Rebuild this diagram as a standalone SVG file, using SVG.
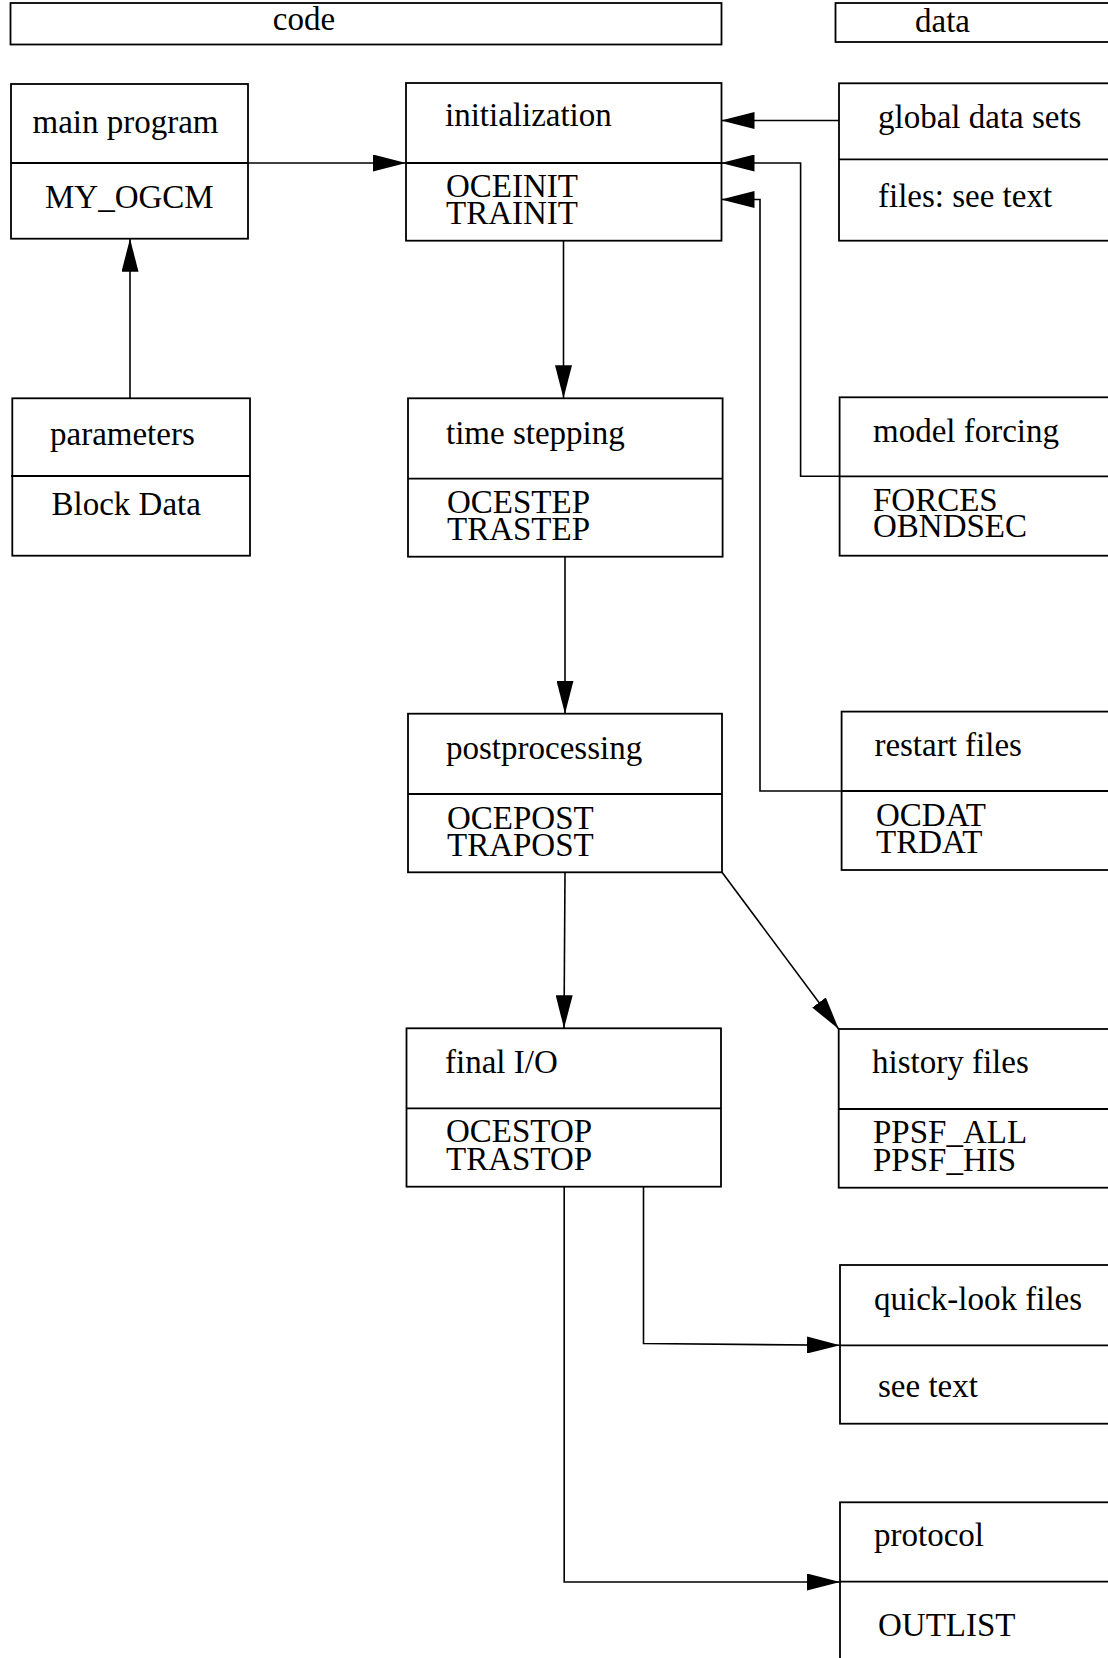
<svg xmlns="http://www.w3.org/2000/svg" width="1108" height="1658" viewBox="0 0 1108 1658">
<style>
.box{fill:none;stroke:#000;stroke-width:1.8}
.div{stroke:#000;stroke-width:1.8}
.t{font-family:"Liberation Serif","Times New Roman",serif;font-size:33px;fill:#000}
.c{fill:none;stroke:#000;stroke-width:1.6}
</style>
<defs>
<marker id="ah" markerUnits="userSpaceOnUse" markerWidth="33" markerHeight="17" refX="33" refY="8.5" orient="auto">
<path d="M0,0 L33,8.5 L0,17 z" fill="#000"/>
</marker>
</defs>
<rect width="1108" height="1658" fill="#fff"/>
<g id="code-header">
<rect class="box" x="10.5" y="3" width="711" height="41.5"/>
<text class="t" x="304" y="30" text-anchor="middle">code</text>
</g>
<g id="data-header">
<rect class="box" x="835.5" y="3" width="300" height="39"/>
<text class="t" x="915" y="32">data</text>
</g>
<g id="main-program">
<rect class="box" x="11" y="84" width="237" height="154.7"/>
<line class="div" x1="11" y1="163" x2="248" y2="163"/>
<text class="t" x="32.5" y="133">main program</text>
<text class="t" x="45" y="208">MY_OGCM</text>
</g>
<g id="parameters">
<rect class="box" x="12.3" y="398.3" width="237.7" height="157.4"/>
<line class="div" x1="11" y1="476" x2="250" y2="476"/>
<text class="t" x="50" y="445">parameters</text>
<text class="t" x="51.5" y="515">Block Data</text>
</g>
<g id="initialization">
<rect class="box" x="406" y="83" width="315.5" height="157.7"/>
<line class="div" x1="406" y1="163" x2="721.5" y2="163"/>
<text class="t" x="445" y="126">initialization</text>
<text class="t" x="446" y="197">OCEINIT</text>
<text class="t" x="446" y="224">TRAINIT</text>
</g>
<g id="time-stepping">
<rect class="box" x="408" y="398.3" width="314.6" height="158.4"/>
<line class="div" x1="408" y1="478.7" x2="722.6" y2="478.7"/>
<text class="t" x="446" y="444">time stepping</text>
<text class="t" x="447" y="513">OCESTEP</text>
<text class="t" x="447" y="540">TRASTEP</text>
</g>
<g id="postprocessing">
<rect class="box" x="408" y="713.7" width="314" height="158.6"/>
<line class="div" x1="408" y1="794" x2="722" y2="794"/>
<text class="t" x="446" y="759">postprocessing</text>
<text class="t" x="447" y="829">OCEPOST</text>
<text class="t" x="447" y="856">TRAPOST</text>
</g>
<g id="final-io">
<rect class="box" x="406.5" y="1028.3" width="314.5" height="158.4"/>
<line class="div" x1="406.5" y1="1108.3" x2="721" y2="1108.3"/>
<text class="t" x="445" y="1072.7">final I/O</text>
<text class="t" x="446" y="1141.7">OCESTOP</text>
<text class="t" x="446" y="1170">TRASTOP</text>
</g>
<g id="global-data-sets">
<rect class="box" x="839" y="83.3" width="300" height="157.4"/>
<line class="div" x1="839" y1="159.3" x2="1139" y2="159.3"/>
<text class="t" x="878" y="128">global data sets</text>
<text class="t" x="878" y="207">files: see text</text>
</g>
<g id="model-forcing">
<rect class="box" x="839.6" y="397.3" width="300" height="158.4"/>
<line class="div" x1="839.6" y1="476.3" x2="1139" y2="476.3"/>
<text class="t" x="873" y="441.7">model forcing</text>
<text class="t" x="873" y="510.7">FORCES</text>
<text class="t" x="873" y="537">OBNDSEC</text>
</g>
<g id="restart-files">
<rect class="box" x="841.6" y="711.6" width="300" height="158.4"/>
<line class="div" x1="841.6" y1="791" x2="1141" y2="791"/>
<text class="t" x="874.4" y="756">restart files</text>
<text class="t" x="876" y="826">OCDAT</text>
<text class="t" x="876" y="853">TRDAT</text>
</g>
<g id="history-files">
<rect class="box" x="838.7" y="1029" width="300" height="158.7"/>
<line class="div" x1="838.7" y1="1109" x2="1139" y2="1109"/>
<text class="t" x="872" y="1072.7">history files</text>
<text class="t" x="873" y="1142.7">PPSF_ALL</text>
<text class="t" x="873" y="1170.7">PPSF_HIS</text>
</g>
<g id="quick-look-files">
<rect class="box" x="840" y="1265" width="300" height="158.7"/>
<line class="div" x1="840" y1="1345.3" x2="1140" y2="1345.3"/>
<text class="t" x="874" y="1310">quick-look files</text>
<text class="t" x="878" y="1396.7">see text</text>
</g>
<g id="protocol">
<rect class="box" x="840" y="1502.3" width="300" height="200"/>
<line class="div" x1="840" y1="1581.7" x2="1140" y2="1581.7"/>
<text class="t" x="874" y="1546">protocol</text>
<text class="t" x="878" y="1635.7">OUTLIST</text>
</g>
<g id="connectors">
<path class="c" d="M248,163 H406" marker-end="url(#ah)"/>
<path class="c" d="M130,398.3 V238.7" marker-end="url(#ah)"/>
<path class="c" d="M839,120.5 H721.5" marker-end="url(#ah)"/>
<path class="c" d="M839.6,476.3 H800.6 V163 H721.5" marker-end="url(#ah)"/>
<path class="c" d="M841.6,791 H760 V199.5 H721.5" marker-end="url(#ah)"/>
<path class="c" d="M563.5,240.7 V398.3" marker-end="url(#ah)"/>
<path class="c" d="M565,556.7 V713.7" marker-end="url(#ah)"/>
<path class="c" d="M565,872.3 L564,1028.3" marker-end="url(#ah)"/>
<path class="c" d="M722,872.3 L838.7,1029" marker-end="url(#ah)"/>
<path class="c" d="M643.5,1186.7 V1343.5 L840,1345.3" marker-end="url(#ah)"/>
<path class="c" d="M564.2,1186.7 V1582 H840" marker-end="url(#ah)"/>
</g>
</svg>
